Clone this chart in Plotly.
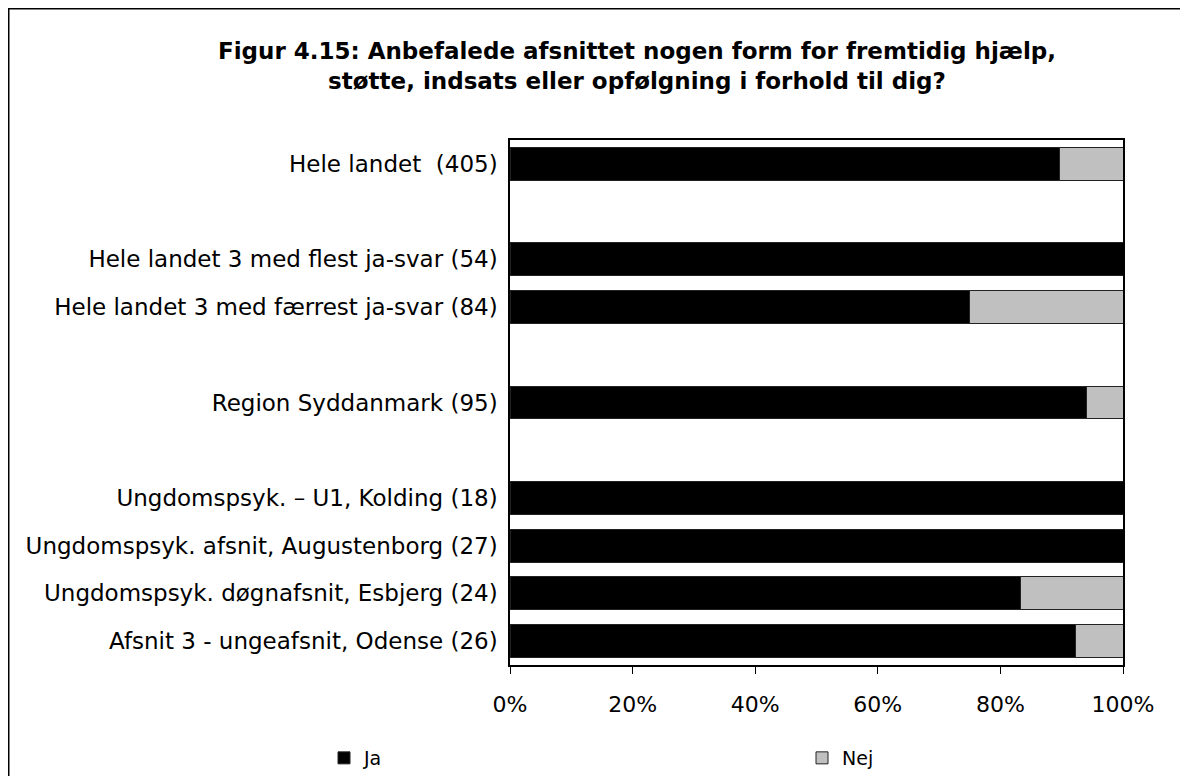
import plotly.graph_objects as go

categories = [
    "Hele landet  (405)",
    " ",
    "Hele landet 3 med flest ja-svar (54)",
    "Hele landet 3 med færrest ja-svar (84)",
    "  ",
    "Region Syddanmark (95)",
    "   ",
    "Ungdomspsyk. – U1, Kolding (18)",
    "Ungdomspsyk. afsnit, Augustenborg (27)",
    "Ungdomspsyk. døgnafsnit, Esbjerg (24)",
    "Afsnit 3 - ungeafsnit, Odense (26)",
]
ja = [89.7, None, 100.0, 75.0, None, 94.0, None, 100.0, 100.0, 83.3, 92.3]
nej = [10.3, None, 0.0, 25.0, None, 6.0, None, 0.0, 0.0, 16.7, 7.7]
x_ticks = [0, 20, 40, 60, 80, 100]
x_tick_labels = ["0%", "20%", "40%", "60%", "80%", "100%"]

FONT = "DejaVu Sans"

fig = go.Figure()
fig.add_trace(go.Bar(
    y=categories, x=ja, name="Ja", orientation="h",
    marker=dict(color="#000000", line=dict(color="#222222", width=1)),
    width=0.69, legend="legend",
))
fig.add_trace(go.Bar(
    y=categories, x=nej, name="Nej", orientation="h",
    marker=dict(color="#c0c0c0", line=dict(color="#222222", width=1)),
    width=0.69, legend="legend2",
))

L, T, PW, PH = 502, 132, 613, 525

fig.update_layout(
    width=1188, height=776,
    barmode="stack",
    paper_bgcolor="white", plot_bgcolor="white",
    margin=dict(l=L, r=1188 - L - PW, t=T, b=776 - T - PH, autoexpand=False),
    font=dict(family=FONT, size=22, color="#000000"),
    title=dict(
        text="<b>Figur 4.15: Anbefalede afsnittet nogen form for fremtidig hjælp,<br>støtte, indsats eller opfølgning i forhold til dig?</b>",
        x=629 / 1188, xanchor="center", xref="container",
        y=1 - 51 / 776, yanchor="top", yref="container",
        font=dict(family=FONT, size=23, color="#000000"),
    ),
    showlegend=True,
    legend=dict(
        x=(316 - L) / PW, xanchor="left", y=-(731 - T - PH) / PH, yanchor="top",
        font=dict(family=FONT, size=19), itemwidth=30, bgcolor="rgba(0,0,0,0)",
    ),
    legend2=dict(
        x=(794 - L) / PW, xanchor="left", y=-(731 - T - PH) / PH, yanchor="top",
        font=dict(family=FONT, size=19), itemwidth=30, bgcolor="rgba(0,0,0,0)",
    ),
    bargap=0.31,
)
fig.update_xaxes(
    range=[0, 100], tickvals=x_ticks, ticktext=x_tick_labels,
    showgrid=False, zeroline=False, automargin=False,
    showline=True, linecolor="#000000", linewidth=1.5, mirror=True,
    ticks="outside", ticklen=7, tickcolor="#000000", ticklabelstandoff=12,
    tickfont=dict(family=FONT, size=22),
)
fig.update_yaxes(
    categoryorder="array", categoryarray=categories, autorange="reversed",
    showgrid=False, showline=True, linecolor="#000000", linewidth=1.5, mirror=True,
    automargin=False,
    ticks="", ticklabelstandoff=6, tickfont=dict(family=FONT, size=23),
)

# outer chart frame (extends past right/bottom edges as in the reference)
fig.add_shape(type="rect", xref="paper", yref="paper",
              x0=(0.5 - L) / PW, x1=(1220 - L) / PW,
              y0=-(820 - T - PH) / PH, y1=1 + (T - 0.5) / PH,
              line=dict(color="#000000", width=2), fillcolor="rgba(0,0,0,0)", layer="below")

fig.write_html("out.html")
